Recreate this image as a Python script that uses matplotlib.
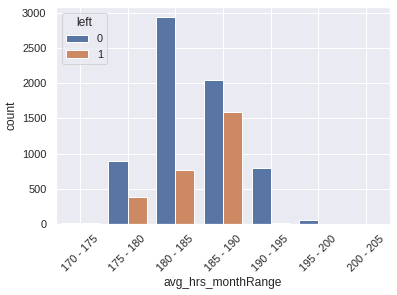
import matplotlib
matplotlib.use("Agg")
import matplotlib.pyplot as plt
import numpy as np
import seaborn as sns

sns.set_theme(style="darkgrid")
plt.rcParams['font.family'] = ['Liberation Sans', 'DejaVu Sans']

categories = ["170 - 175", "175 - 180", "180 - 185", "185 - 190", "190 - 195", "195 - 200", "200 - 205"]
left0 = [12, 890, 2935, 2050, 795, 60, 5]
left1 = [10, 385, 770, 1585, 18, 3, 2]

W, H = 397, 295
fig = plt.figure(figsize=(W / 72, H / 72), dpi=72)
ax = fig.add_axes([56 / W, 1 - 224 / H, (390 - 56) / W, (224 - 7) / H])

pal = [sns.desaturate(c, 0.75) for c in sns.color_palette("deep")[:2]]
x = np.arange(len(categories))
w = 0.4
ax.bar(x - w / 2, left0, width=w, color=pal[0], edgecolor="white", linewidth=1, label="0")
ax.bar(x + w / 2, left1, width=w, color=pal[1], edgecolor="white", linewidth=1, label="1")
ax.set_xticks(x)
ax.set_xticklabels(categories, rotation=45)
ax.set_xlim(-0.5, len(categories) - 0.5)
ax.set_ylim(0, max(left0) * 1.05)
ax.set_xlabel("avg_hrs_monthRange")
ax.set_ylabel("count")
ax.legend(title="left", loc="upper left")

fig.savefig("out.png", dpi=72)
